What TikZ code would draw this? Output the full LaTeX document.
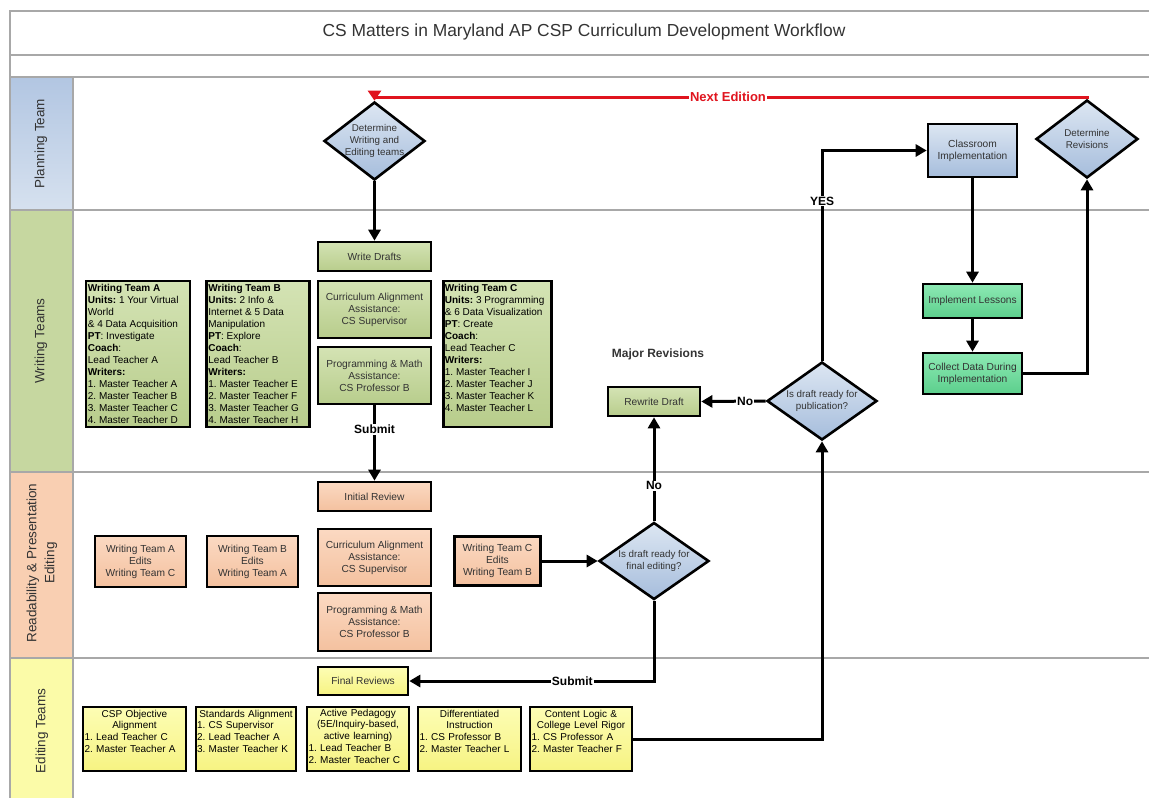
\documentclass[tikz,border=0pt]{standalone}
\usepackage{fontspec}
\setmainfont{Liberation Sans}
\usetikzlibrary{shapes.geometric,arrows.meta}
\definecolor{lanegray}{HTML}{A8A8A8}
\definecolor{txt}{HTML}{333333}
\definecolor{gTop}{HTML}{D4E3B4}
\definecolor{gBot}{HTML}{B8CD8C}
\definecolor{pTop}{HTML}{FBD9C2}
\definecolor{pBot}{HTML}{F4C19F}
\definecolor{yTop}{HTML}{FDFDB4}
\definecolor{yBot}{HTML}{F6F382}
\definecolor{mTop}{HTML}{8DE9B4}
\definecolor{mBot}{HTML}{5CCF8C}
\definecolor{bTop}{HTML}{DCE6F2}
\definecolor{bBot}{HTML}{A6BDDC}
\definecolor{laneBlueA}{HTML}{B2C6E2}
\definecolor{laneBlueB}{HTML}{D6E1EF}
\definecolor{laneGreen}{HTML}{C6D7A0}
\definecolor{lanePeach}{HTML}{F9CFB2}
\definecolor{laneYellow}{HTML}{FBFBA8}
\definecolor{nextred}{HTML}{E0141E}
\frenchspacing
\begin{document}
\begin{tikzpicture}[x=1pt,y=-1pt,
  boxbase/.style={draw=black, line width=2.6pt, rectangle, inner sep=1pt, align=center,
    font=\fontsize{10.2}{12}\selectfont, text=txt},
  gbx/.style={boxbase, top color=gTop, bottom color=gBot},
  pbx/.style={boxbase, top color=pTop, bottom color=pBot},
  ybx/.style={boxbase, top color=yTop, bottom color=yBot},
  mbx/.style={boxbase, top color=mTop, bottom color=mBot},
  bbx/.style={boxbase, top color=bTop, bottom color=bBot},
  dia/.style={diamond, draw=black, line width=2.6pt, inner sep=0pt, top color=bTop, bottom color=bBot},
  dtext/.style={align=center, font=\fontsize{9.8}{12}\selectfont, inner sep=0pt, text=txt},
  arr/.style={draw=black, line width=3pt, -{Triangle[length=11pt,width=12pt]}},
  redarr/.style={draw=nextred, line width=3pt, -{Triangle[length=10pt,width=13pt]}},
  lbl/.style={font=\bfseries\fontsize{12}{14}\selectfont, fill=white, inner sep=1pt, text=black},
  lanerule/.style={draw=lanegray, line width=2.5pt},
  lanetext/.style={rotate=90, font=\fontsize{13.5}{18}\selectfont, align=center, text=txt},
  teamtext/.style={anchor=north west, align=left, inner sep=0pt, font=\fontsize{10}{12}\selectfont, text=black},
  edtext/.style={anchor=north, inner sep=0pt, text width=#1, font=\fontsize{10}{11.8}\selectfont, text=black}
]
\useasboundingbox (0,0) rectangle (1149,798);

% lane label fills
\fill[top color=laneBlueA, bottom color=laneBlueB] (10,77) rectangle (73,210);
\fill[laneGreen] (10,210) rectangle (73,472);
\fill[lanePeach] (10,472) rectangle (73,658);
\fill[laneYellow] (10,658) rectangle (73,798);

% frame lines
\draw[lanerule] (10,798) -- (10,11) -- (1149,11);
\foreach \yy in {55,77,210,472,658} \draw[lanerule] (10,\yy) -- (1149,\yy);
\draw[lanerule] (73,77) -- (73,798);

% title and lane labels
\node[font=\fontsize{17.4}{20}\selectfont, text=txt] (title) at (584,32) {CS Matters in Maryland AP CSP Curriculum Development Workflow};
\node[lanetext] (lPlan) at (41,143.5) {Planning Team};
\node[lanetext] (lWrite) at (41,341) {Writing Teams};
\node[lanetext] (lRead) at (42,563) {Readability \& Presentation\\Editing};
\node[lanetext] (lEdit) at (42,731) {Editing Teams};

% planning lane
\node[dia, minimum width=101, minimum height=78] (d1) at (374.5,141) {};
\node[dtext] (d1t) at (d1) {Determine\\Writing and\\Editing teams};
\node[bbx, minimum width=89, minimum height=53] (ci) at (972.5,150.5) {Classroom\\Implementation};
\node[dia, minimum width=102, minimum height=78] (dRev) at (1087,139) {};
\node[dtext] (dRevt) at (dRev) {Determine\\Revisions};

% writing lane
\node[gbx, minimum width=113, minimum height=29] (wd) at (374.5,256.5) {Write Drafts};
\node[gbx, minimum width=113, minimum height=57] (caW) at (374.5,309.5) {Curriculum Alignment\\Assistance:\\CS Supervisor};
\node[gbx, minimum width=113, minimum height=57] (pmW) at (374.5,375.5) {Programming \& Math\\Assistance:\\CS Professor B};

\node[gbx, minimum width=104, minimum height=146] (wtA) at (138,354) {};
\node[teamtext] (wtAt) at ([xshift=3pt,yshift=-4pt]wtA.north west) {\textbf{Writing Team A}\\\textbf{Units:} 1 Your Virtual\\World\\\& 4 Data Acquisition\\\textbf{PT}: Investigate\\\textbf{Coach}:\\Lead Teacher A\\\textbf{Writers:}\\1. Master Teacher A\\2. Master Teacher B\\3. Master Teacher C\\4. Master Teacher D};
\node[gbx, minimum width=103, minimum height=146] (wtB) at (258,354) {};
\node[teamtext] (wtBt) at ([xshift=3pt,yshift=-4pt]wtB.north west) {\textbf{Writing Team B}\\\textbf{Units:} 2 Info \&\\Internet \& 5 Data\\Manipulation\\\textbf{PT}: Explore\\\textbf{Coach}:\\Lead Teacher B\\\textbf{Writers:}\\1. Master Teacher E\\2. Master Teacher F\\3. Master Teacher G\\4. Master Teacher H};
\node[gbx, minimum width=108, minimum height=146] (wtC) at (497.5,354) {};
\node[teamtext] (wtCt) at ([xshift=2.5pt,yshift=-4pt]wtC.north west) {\textbf{Writing Team C}\\\textbf{Units:} 3 Programming\\\& 6 Data Visualization\\\textbf{PT}: Create\\\textbf{Coach}:\\Lead Teacher C\\\textbf{Writers:}\\1. Master Teacher I\\2. Master Teacher J\\3. Master Teacher K\\4. Master Teacher L};

\node[font=\bfseries\fontsize{12}{14}\selectfont, text=txt] (major) at (658,354) {Major Revisions};
\node[gbx, minimum width=92, minimum height=29] (rw) at (654,401.5) {Rewrite Draft};
\node[dia, minimum width=110, minimum height=78] (dPub) at (822,401) {};
\node[dtext] (dPubt) at (dPub) {Is draft ready for\\publication?};
\node[mbx, minimum width=99, minimum height=34] (il) at (972.5,301) {Implement Lessons};
\node[mbx, minimum width=99, minimum height=41] (cd) at (972.5,373.5) {Collect Data During\\Implementation};

% readability lane
\node[pbx, minimum width=113, minimum height=29] (ir) at (374.5,496.5) {Initial Review};
\node[pbx, minimum width=113, minimum height=57] (caR) at (374.5,557.5) {Curriculum Alignment\\Assistance:\\CS Supervisor};
\node[pbx, minimum width=113, minimum height=58] (pmR) at (374.5,622) {Programming \& Math\\Assistance:\\CS Professor B};
\node[pbx, minimum width=91, minimum height=51] (eA) at (140.5,561.5) {Writing Team A\\Edits\\Writing Team C};
\node[pbx, minimum width=91, minimum height=51] (eB) at (252.5,561.5) {Writing Team B\\Edits\\Writing Team A};
\node[pbx, minimum width=86, minimum height=49] (eC) at (497.5,561) {Writing Team C\\Edits\\Writing Team B};
\node[dia, minimum width=110, minimum height=77] (dFin) at (654,561) {};
\node[dtext] (dFint) at (dFin) {Is draft ready for\\final editing?};

% editing lane
\node[ybx, minimum width=90, minimum height=28] (fr) at (363,681) {Final Reviews};
\node[ybx, minimum width=103, minimum height=64] (et1) at (134.5,739) {};
\node[edtext=100pt] (et1t) at ([yshift=-4pt]et1.north) {\centering CSP Objective\\Alignment\par\raggedright 1. Lead Teacher C\\2. Master Teacher A};
\node[ybx, minimum width=100, minimum height=64] (et2) at (246,739) {};
\node[edtext=98pt] (et2t) at ([yshift=-4pt]et2.north) {\centering Standards Alignment\par\raggedright 1. CS Supervisor\\2. Lead Teacher A\\3. Master Teacher K};
\node[ybx, minimum width=102, minimum height=64] (et3) at (358,739) {};
\node[edtext=99pt] (et3t) at ([yshift=-3pt]et3.north) {\centering Active Pedagogy\\(5E/Inquiry-based,\\active learning)\par\raggedright 1. Lead Teacher B\\2. Master Teacher C};
\node[ybx, minimum width=103, minimum height=64] (et4) at (469.5,739) {};
\node[edtext=100pt] (et4t) at ([yshift=-4pt]et4.north) {\centering Differentiated\\Instruction\par\raggedright 1. CS Professor B\\2. Master Teacher L};
\node[ybx, minimum width=102, minimum height=64] (et5) at (581,739) {};
\node[edtext=99pt] (et5t) at ([yshift=-4pt]et5.north) {\centering Content Logic \&\\College Level Rigor\par\raggedright 1. CS Professor A\\2. Master Teacher F};

% connectors
\coordinate (nE) at (374.5,97);
\draw[redarr] (dRev.north) -- (dRev.north |- nE) -- (nE) -- (d1.north);
\node[font=\bfseries\fontsize{13}{15}\selectfont, text=nextred, fill=white, inner sep=1pt] (nextlbl) at (728,97) {Next Edition};

\draw[arr] (d1.south) -- (wd.north);
\draw[arr] (pmW.south) -- node[lbl, pos=0.32] (sub1) {Submit} (ir.north);
\draw[arr] (eC.east) -- (dFin.west);
\draw[arr] (dFin.north) -- node[lbl, pos=0.34] (no1) {No} (dFin.north |- rw.south);
\draw[arr] (dFin.south) |- node[lbl, pos=0.667] (sub2) {Submit} (fr.east);
\draw[arr] (dPub.west) -- node[lbl, pos=0.32] (no2) {No} (rw.east);
\draw[arr] (dPub.north) |- node[lbl, pos=0.38] (yes) {YES} (ci.west);
\draw[arr] (ci.south) -- (il.north);
\draw[arr] (il.south) -- (cd.north);
\draw[arr] (cd.east) -| (dRev.south);
\draw[arr] (et5.east) -| (dPub.south);
\end{tikzpicture}
\end{document}
